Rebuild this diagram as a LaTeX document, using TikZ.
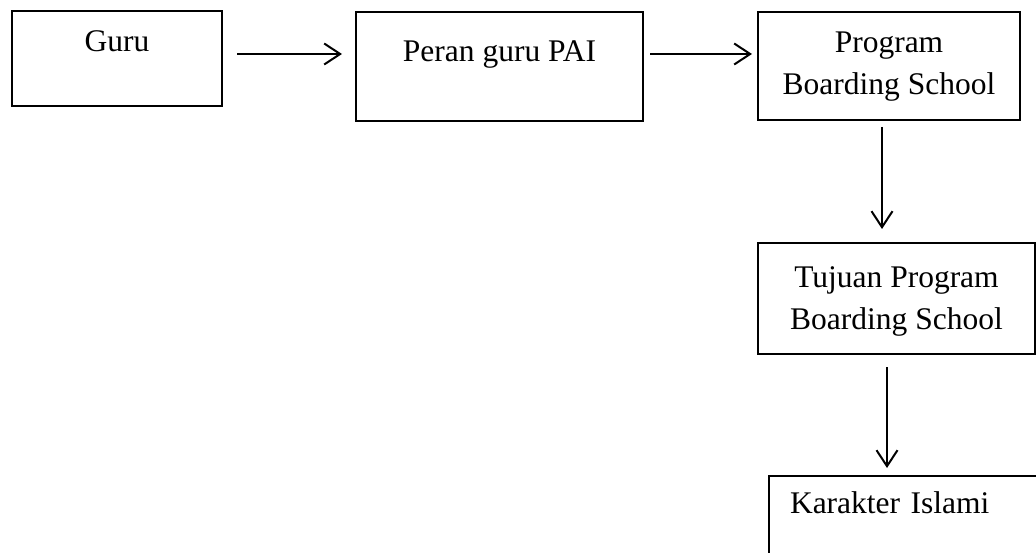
\documentclass[tikz,border=0pt]{standalone}
\usepackage{fontspec}
\setmainfont{Liberation Serif}
\usetikzlibrary{arrows.meta}

\begin{document}
\begin{tikzpicture}[
  x=1pt,y=-1pt,
  box/.style={draw,line width=2pt,outer sep=0pt,inner xsep=0pt,inner ysep=0pt,
              anchor=north west,align=center,font=\fontsize{31.5}{42}\selectfont},
  arr/.style={-{Straight Barb[length=16pt,width=21pt]},line width=2pt}
]
\useasboundingbox (0,0) rectangle (1036,553);
\clip (0,0) rectangle (1036,553);
\node[box,minimum width=210pt,text height=41pt,text depth=54pt] (guru) at (12,11) {Guru};
\node[box,minimum width=287pt,text height=50pt,text depth=59pt] (peran) at (356,12) {Peran guru PAI};
\node[box,minimum width=262pt,text height=83pt,text depth=25pt] (program) at (758,12) {Program\\Boarding School};
\node[box,minimum width=277pt,text height=87pt,text depth=24pt] (tujuan) at (758,243) {Tujuan Program\\Boarding School};
\node[box,text width=260pt,align=left,inner xsep=21pt,text height=37pt,text depth=100pt] (karakter) at (769,476) {Karakter Islami};
% arrows
\coordinate (r1) at ([yshift=4.5pt]guru.east);
\coordinate (r2) at ([yshift=12.5pt]peran.east);
\coordinate (d1) at ([xshift=-7pt]program.south);
\coordinate (d2) at ([xshift=-9.5pt]tujuan.south);
\draw[arr,shorten <=15pt,shorten >=14pt] (r1) -- (r1 -| peran.west);
\draw[arr,shorten <=7pt,shorten >=6pt] (r2) -- (r2 -| program.west);
\draw[arr,shorten <=7pt,shorten >=14pt] (d1) -- (d1 |- tujuan.north);
\draw[arr,shorten <=13pt,shorten >=8pt] (d2) -- (d2 |- karakter.north);
\end{tikzpicture}
\end{document}
